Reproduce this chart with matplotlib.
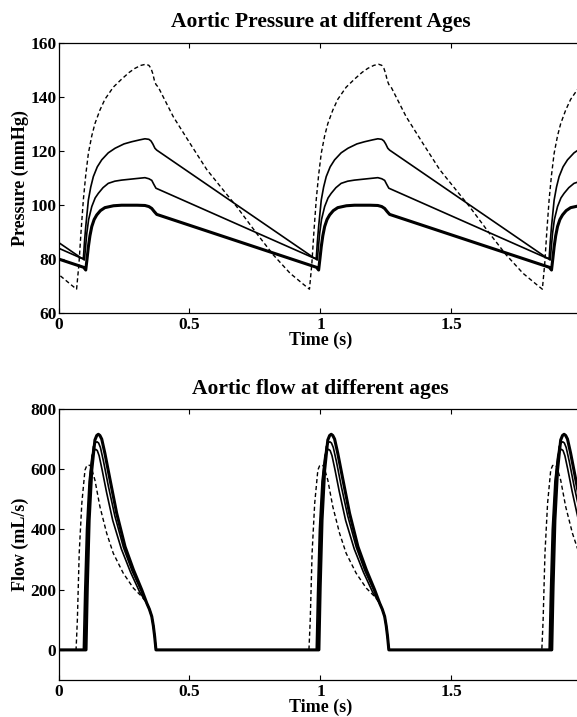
import numpy as np
import matplotlib
matplotlib.use("Agg")
import matplotlib.pyplot as plt

plt.rcParams['font.family'] = ['Liberation Serif', 'DejaVu Serif']
plt.rcParams['font.weight'] = 'bold'

# beat period (s), read from the repeating cycles
period = 0.889

# one beat of aortic pressure (mmHg), starting at each curve's foot
p_old_t = [0.069, 0.078, 0.086, 0.095, 0.104, 0.114, 0.127, 0.139, 0.158, 0.177, 0.209, 0.241, 0.270,
           0.292, 0.315, 0.333, 0.345, 0.353, 0.360, 0.366, 0.372, 0.381, 0.438, 0.502, 0.566, 0.629,
           0.680, 0.756, 0.820, 0.884, 0.940]
p_old = [68.7, 78.0, 90.0, 102.0, 111.0, 119.0, 125.5, 130.0, 135.0, 139.0, 143.5, 146.5, 149.0,
         150.5, 151.6, 152.0, 151.6, 150.5, 148.5, 146.0, 144.5, 143.5, 132.6, 122.7, 113.0, 105.4,
         99.3, 89.4, 81.4, 74.6, 70.1]

p_young_t = [0.104, 0.109, 0.114, 0.120, 0.127, 0.136, 0.146, 0.160, 0.177, 0.210, 0.241, 0.300,
             0.330, 0.345, 0.356, 0.365, 0.375, 0.985]
p_young = [75.8, 80.0, 84.4, 88.5, 91.9, 94.5, 96.2, 97.8, 98.9, 99.6, 99.8, 99.8,
           99.7, 99.3, 98.6, 97.5, 96.4, 76.8]

p_mid_t = [0.099, 0.103, 0.108, 0.115, 0.127, 0.140, 0.152, 0.170, 0.190, 0.215, 0.241, 0.290,
           0.330, 0.345, 0.356, 0.364, 0.372, 0.980]
p_mid = [79.5, 84.0, 89.4, 94.5, 99.3, 102.5, 104.2, 106.3, 107.9, 108.7, 109.1, 109.6,
         110.0, 109.6, 109.0, 107.5, 106.1, 80.0]

p_late_t = [0.095, 0.099, 0.104, 0.114, 0.123, 0.133, 0.148, 0.165, 0.190, 0.216, 0.250, 0.279,
            0.310, 0.330, 0.345, 0.353, 0.360, 0.368, 0.375, 0.975]
p_late = [80.1, 86.0, 91.9, 101.7, 106.5, 110.4, 114.0, 116.6, 119.2, 120.9, 122.5, 123.3,
          124.0, 124.4, 124.2, 123.6, 122.5, 120.9, 120.2, 80.3]

# one beat of aortic flow (mL/s)
q_old_t = [0.067, 0.072, 0.079, 0.089, 0.101, 0.108, 0.114, 0.121, 0.127, 0.139, 0.158, 0.184,
           0.209, 0.247, 0.286, 0.318, 0.337, 0.347, 0.356, 0.362, 0.367, 0.372]
q_old = [0, 100, 321, 487, 597, 612, 614, 612, 600, 564, 476, 387,
         321, 255, 205, 177, 155, 135, 111, 80, 45, 0]

q_young_t = [0.105, 0.110, 0.117, 0.127, 0.139, 0.146, 0.152, 0.158, 0.165, 0.177, 0.197, 0.222,
             0.254, 0.286, 0.318, 0.337, 0.347, 0.356, 0.362, 0.367, 0.372]
q_young = [0, 210, 431, 597, 697, 712, 716, 712, 700, 653, 564, 454,
           343, 266, 199, 155, 135, 111, 80, 45, 0]

q_mid_t = [0.099, 0.104, 0.111, 0.121, 0.133, 0.141, 0.147, 0.153, 0.160, 0.172, 0.190, 0.215,
           0.248, 0.281, 0.315, 0.337, 0.347, 0.356, 0.362, 0.367, 0.372]
q_mid = [0, 200, 420, 585, 675, 688, 691, 687, 672, 625, 545, 445,
         340, 262, 197, 155, 135, 111, 80, 45, 0]

q_late_t = [0.095, 0.100, 0.107, 0.117, 0.128, 0.136, 0.142, 0.148, 0.155, 0.166, 0.183, 0.207,
            0.240, 0.275, 0.310, 0.337, 0.347, 0.356, 0.362, 0.367, 0.372]
q_late = [0, 190, 400, 560, 645, 662, 666, 662, 645, 600, 525, 430,
          335, 258, 192, 155, 135, 111, 80, 45, 0]

# the 2 s tick sits on the cropped right edge, its label is not shown
x_ticks = [0, 0.5, 1, 1.5]
x_labels = ['0', '0.5', '1', '1.5']


def repeat_beats(t, y, n_before=1, n_after=2, pad_zero=False):
    # lay the same beat end to end
    tt, yy = [], []
    for k in range(-n_before, n_after + 1):
        shift = np.asarray(t) + k * period
        tt.extend(shift)
        yy.extend(y)
        if pad_zero:
            tt.append(t[0] + (k + 1) * period)
            yy.append(0)
    return np.array(tt), np.array(yy)


def style_axes(ax):
    ax.tick_params(direction='in', length=3.6, width=0.8, top=True, right=True,
                   labelsize=12.5, pad=1.5)
    ax.tick_params(axis='x', pad=3)
    for s in ax.spines.values():
        s.set_linewidth(0.9)
    ax.set_xticks(x_ticks)
    ax.set_xticklabels(x_labels)
    ax.set_xlim(0, 2)


fig = plt.figure(figsize=(5.77, 7.17), dpi=100)
ax1 = fig.add_axes([0.1014, 0.5639, 0.908, 0.3766])
ax2 = fig.add_axes([0.1014, 0.0516, 0.908, 0.378])

dash = (0, (3, 2))
styles = [
    (p_old_t, p_old, q_old_t, q_old, dict(lw=1.0, ls=dash)),
    (p_late_t, p_late, q_late_t, q_late, dict(lw=1.2, ls='-')),
    (p_mid_t, p_mid, q_mid_t, q_mid, dict(lw=1.2, ls='-')),
    (p_young_t, p_young, q_young_t, q_young, dict(lw=2.2, ls='-')),
]

for pt, pv, qt, qv, kw in styles:
    t, y = repeat_beats(pt, pv)
    ax1.plot(t, y, color='black', **kw)
    t, y = repeat_beats(qt, qv, pad_zero=True)
    ax2.plot(t, y, color='black', **kw)

style_axes(ax1)
ax1.set_ylim(60, 160)
ax1.set_yticks([60, 80, 100, 120, 140, 160])
ax1.set_title('Aortic Pressure at different Ages', fontsize=15.5, fontweight='bold', pad=11)
ax1.set_xlabel('Time (s)', fontsize=13, fontweight='bold', labelpad=-1)
ax1.set_ylabel('Pressure (mmHg)', fontsize=13, fontweight='bold', labelpad=1)

style_axes(ax2)
ax2.set_ylim(-100, 800)
ax2.set_yticks([0, 200, 400, 600, 800])
ax2.set_title('Aortic flow at different ages', fontsize=15.5, fontweight='bold', pad=11)
ax2.set_xlabel('Time (s)', fontsize=13, fontweight='bold', labelpad=-1)
ax2.set_ylabel('Flow (mL/s)', fontsize=13, fontweight='bold', labelpad=1)

fig.savefig('out.png', dpi=100)
